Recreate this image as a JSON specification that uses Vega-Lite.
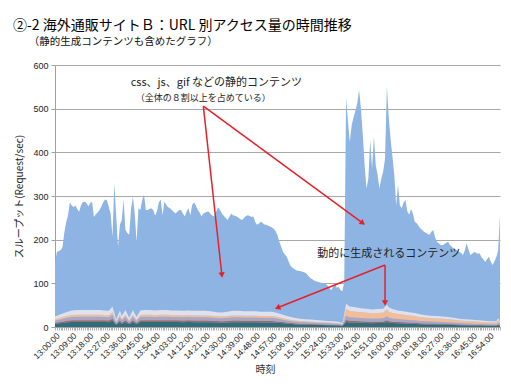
{
"$schema":"https://vega.github.io/schema/vega-lite/v6.json",
"width":445,"height":262,
"padding":{"left":12,"top":18,"right":12,"bottom":4},
"background":"white",
"config":{"view":{"stroke":null},"font":"Noto Sans CJK JP"},
"title":{"text":"②-2 海外通販サイトＢ：URL 別アクセス量の時間推移","subtitle":"\u200b　　（静的生成コンテンツも含めたグラフ）","anchor":"start","frame":"bounds","font":"Noto Sans CJK JP","fontSize":14,"fontWeight":"normal","color":"#000","subtitleFont":"Noto Sans CJK JP","subtitleFontSize":10.5,"subtitleColor":"#111","subtitlePadding":4,"offset":14,"dx":-2},
"encoding":{
 "x":{"field":"t","type":"temporal","title":"時刻",
  "scale":{"type":"utc","nice":false,"domain":[{"year":2000,"month":1,"date":1,"hours":13,"minutes":0,"utc":true},{"year":2000,"month":1,"date":1,"hours":17,"minutes":0,"utc":true}]},
  "axis":{"tickCount":240,"labelExpr":"(utchours(datum.value)*60+utcminutes(datum.value)-780)%9==0 ? utcFormat(datum.value,'%H:%M:%S') : ''","labelAngle":-45,"labelOverlap":false,"labelFlush":false,"labelBound":false,"grid":false,"tickSize":3,"tickColor":"#b0b0b0","domainColor":"#a0a0a0","labelFont":"Liberation Sans","labelFontSize":8.5,"labelColor":"#222","labelPadding":1,"titleFont":"Noto Sans CJK JP","titleFontSize":10,"titleFontWeight":"normal","titleColor":"#333","titlePadding":4,"titleX":210}},
 "y":{"field":"v","type":"quantitative","title":"スループット(Request/sec)",
  "scale":{"domain":[0,600],"nice":false},
  "axis":{"values":[0,100,200,300,400,500,600],"grid":true,"gridColor":"#a8a8a8","gridWidth":1,"domainColor":"#a0a0a0","tickColor":"#a0a0a0","tickSize":4,"labelFont":"Liberation Sans","labelFontSize":9,"labelColor":"#222","labelPadding":3,"titleFont":"Noto Sans CJK JP","titleFontSize":10,"titleFontWeight":"normal","titleColor":"#222","titlePadding":8}}
},
"layer":[
{"data":{"format":{"parse":{"t":"utc:'%Y-%m-%d %H:%M'"}},"values":[
{"t":"2000-01-01 13:00","v":146},{"t":"2000-01-01 13:01","v":172},{"t":"2000-01-01 13:02","v":174},{"t":"2000-01-01 13:03","v":176},{"t":"2000-01-01 13:04","v":182},{"t":"2000-01-01 13:05","v":215},{"t":"2000-01-01 13:06","v":240},{"t":"2000-01-01 13:07","v":255},{"t":"2000-01-01 13:08","v":285},{"t":"2000-01-01 13:09","v":278},
{"t":"2000-01-01 13:10","v":275},{"t":"2000-01-01 13:11","v":278},{"t":"2000-01-01 13:12","v":270},{"t":"2000-01-01 13:13","v":264},{"t":"2000-01-01 13:14","v":278},{"t":"2000-01-01 13:15","v":286},{"t":"2000-01-01 13:16","v":287},{"t":"2000-01-01 13:17","v":284},{"t":"2000-01-01 13:18","v":276},{"t":"2000-01-01 13:19","v":284},
{"t":"2000-01-01 13:20","v":287},{"t":"2000-01-01 13:21","v":252},{"t":"2000-01-01 13:22","v":258},{"t":"2000-01-01 13:23","v":262},{"t":"2000-01-01 13:24","v":268},{"t":"2000-01-01 13:25","v":276},{"t":"2000-01-01 13:26","v":285},{"t":"2000-01-01 13:27","v":292},{"t":"2000-01-01 13:28","v":290},{"t":"2000-01-01 13:29","v":275},
{"t":"2000-01-01 13:30","v":260},{"t":"2000-01-01 13:31","v":207},{"t":"2000-01-01 13:32","v":329},{"t":"2000-01-01 13:33","v":255},{"t":"2000-01-01 13:34","v":184},{"t":"2000-01-01 13:35","v":234},{"t":"2000-01-01 13:36","v":245},{"t":"2000-01-01 13:37","v":292},{"t":"2000-01-01 13:38","v":222},{"t":"2000-01-01 13:39","v":215},
{"t":"2000-01-01 13:40","v":211},{"t":"2000-01-01 13:41","v":270},{"t":"2000-01-01 13:42","v":298},{"t":"2000-01-01 13:43","v":260},{"t":"2000-01-01 13:44","v":195},{"t":"2000-01-01 13:45","v":272},{"t":"2000-01-01 13:46","v":268},{"t":"2000-01-01 13:47","v":290},{"t":"2000-01-01 13:48","v":303},{"t":"2000-01-01 13:49","v":268},
{"t":"2000-01-01 13:50","v":268},{"t":"2000-01-01 13:51","v":270},{"t":"2000-01-01 13:52","v":272},{"t":"2000-01-01 13:53","v":268},{"t":"2000-01-01 13:54","v":255},{"t":"2000-01-01 13:55","v":265},{"t":"2000-01-01 13:56","v":285},{"t":"2000-01-01 13:57","v":292},{"t":"2000-01-01 13:58","v":256},{"t":"2000-01-01 13:59","v":287},
{"t":"2000-01-01 14:00","v":280},{"t":"2000-01-01 14:01","v":274},{"t":"2000-01-01 14:02","v":272},{"t":"2000-01-01 14:03","v":268},{"t":"2000-01-01 14:04","v":264},{"t":"2000-01-01 14:05","v":260},{"t":"2000-01-01 14:06","v":264},{"t":"2000-01-01 14:07","v":268},{"t":"2000-01-01 14:08","v":268},{"t":"2000-01-01 14:09","v":260},
{"t":"2000-01-01 14:10","v":253},{"t":"2000-01-01 14:11","v":265},{"t":"2000-01-01 14:12","v":272},{"t":"2000-01-01 14:13","v":256},{"t":"2000-01-01 14:14","v":280},{"t":"2000-01-01 14:15","v":285},{"t":"2000-01-01 14:16","v":278},{"t":"2000-01-01 14:17","v":268},{"t":"2000-01-01 14:18","v":262},{"t":"2000-01-01 14:19","v":253},
{"t":"2000-01-01 14:20","v":260},{"t":"2000-01-01 14:21","v":262},{"t":"2000-01-01 14:22","v":264},{"t":"2000-01-01 14:23","v":264},{"t":"2000-01-01 14:24","v":258},{"t":"2000-01-01 14:25","v":255},{"t":"2000-01-01 14:26","v":253},{"t":"2000-01-01 14:27","v":265},{"t":"2000-01-01 14:28","v":274},{"t":"2000-01-01 14:29","v":268},
{"t":"2000-01-01 14:30","v":260},{"t":"2000-01-01 14:31","v":255},{"t":"2000-01-01 14:32","v":250},{"t":"2000-01-01 14:33","v":245},{"t":"2000-01-01 14:34","v":252},{"t":"2000-01-01 14:35","v":260},{"t":"2000-01-01 14:36","v":256},{"t":"2000-01-01 14:37","v":255},{"t":"2000-01-01 14:38","v":253},{"t":"2000-01-01 14:39","v":250},
{"t":"2000-01-01 14:40","v":247},{"t":"2000-01-01 14:41","v":245},{"t":"2000-01-01 14:42","v":250},{"t":"2000-01-01 14:43","v":254},{"t":"2000-01-01 14:44","v":256},{"t":"2000-01-01 14:45","v":254},{"t":"2000-01-01 14:46","v":252},{"t":"2000-01-01 14:47","v":253},{"t":"2000-01-01 14:48","v":240},{"t":"2000-01-01 14:49","v":234},
{"t":"2000-01-01 14:50","v":237},{"t":"2000-01-01 14:51","v":241},{"t":"2000-01-01 14:52","v":238},{"t":"2000-01-01 14:53","v":235},{"t":"2000-01-01 14:54","v":234},{"t":"2000-01-01 14:55","v":232},{"t":"2000-01-01 14:56","v":230},{"t":"2000-01-01 14:57","v":228},{"t":"2000-01-01 14:58","v":225},{"t":"2000-01-01 14:59","v":219},
{"t":"2000-01-01 15:00","v":210},{"t":"2000-01-01 15:01","v":195},{"t":"2000-01-01 15:02","v":184},{"t":"2000-01-01 15:03","v":172},{"t":"2000-01-01 15:04","v":166},{"t":"2000-01-01 15:05","v":161},{"t":"2000-01-01 15:06","v":150},{"t":"2000-01-01 15:07","v":140},{"t":"2000-01-01 15:08","v":136},{"t":"2000-01-01 15:09","v":133},
{"t":"2000-01-01 15:10","v":130},{"t":"2000-01-01 15:11","v":129},{"t":"2000-01-01 15:12","v":128},{"t":"2000-01-01 15:13","v":127},{"t":"2000-01-01 15:14","v":126},{"t":"2000-01-01 15:15","v":124},{"t":"2000-01-01 15:16","v":120},{"t":"2000-01-01 15:17","v":115},{"t":"2000-01-01 15:18","v":111},{"t":"2000-01-01 15:19","v":109},
{"t":"2000-01-01 15:20","v":106},{"t":"2000-01-01 15:21","v":104},{"t":"2000-01-01 15:22","v":103},{"t":"2000-01-01 15:23","v":102},{"t":"2000-01-01 15:24","v":101},{"t":"2000-01-01 15:25","v":100},{"t":"2000-01-01 15:26","v":99},{"t":"2000-01-01 15:27","v":95},{"t":"2000-01-01 15:28","v":90},{"t":"2000-01-01 15:29","v":84},
{"t":"2000-01-01 15:30","v":92},{"t":"2000-01-01 15:31","v":99},{"t":"2000-01-01 15:32","v":90},{"t":"2000-01-01 15:33","v":92},{"t":"2000-01-01 15:34","v":85},{"t":"2000-01-01 15:35","v":82},{"t":"2000-01-01 15:36","v":104},{"t":"2000-01-01 15:37","v":527},{"t":"2000-01-01 15:38","v":470},{"t":"2000-01-01 15:39","v":424},
{"t":"2000-01-01 15:40","v":462},{"t":"2000-01-01 15:41","v":480},{"t":"2000-01-01 15:42","v":495},{"t":"2000-01-01 15:43","v":512},{"t":"2000-01-01 15:44","v":543},{"t":"2000-01-01 15:45","v":500},{"t":"2000-01-01 15:46","v":440},{"t":"2000-01-01 15:47","v":370},{"t":"2000-01-01 15:48","v":317},{"t":"2000-01-01 15:49","v":340},
{"t":"2000-01-01 15:50","v":428},{"t":"2000-01-01 15:51","v":363},{"t":"2000-01-01 15:52","v":436},{"t":"2000-01-01 15:53","v":370},{"t":"2000-01-01 15:54","v":348},{"t":"2000-01-01 15:55","v":317},{"t":"2000-01-01 15:56","v":340},{"t":"2000-01-01 15:57","v":356},{"t":"2000-01-01 15:58","v":386},{"t":"2000-01-01 15:59","v":551},
{"t":"2000-01-01 16:00","v":480},{"t":"2000-01-01 16:01","v":430},{"t":"2000-01-01 16:02","v":390},{"t":"2000-01-01 16:03","v":348},{"t":"2000-01-01 16:04","v":279},{"t":"2000-01-01 16:05","v":325},{"t":"2000-01-01 16:06","v":279},{"t":"2000-01-01 16:07","v":272},{"t":"2000-01-01 16:08","v":285},{"t":"2000-01-01 16:09","v":291},
{"t":"2000-01-01 16:10","v":265},{"t":"2000-01-01 16:11","v":257},{"t":"2000-01-01 16:12","v":270},{"t":"2000-01-01 16:13","v":260},{"t":"2000-01-01 16:14","v":241},{"t":"2000-01-01 16:15","v":238},{"t":"2000-01-01 16:16","v":232},{"t":"2000-01-01 16:17","v":226},{"t":"2000-01-01 16:18","v":222},{"t":"2000-01-01 16:19","v":218},
{"t":"2000-01-01 16:20","v":216},{"t":"2000-01-01 16:21","v":213},{"t":"2000-01-01 16:22","v":211},{"t":"2000-01-01 16:23","v":218},{"t":"2000-01-01 16:24","v":222},{"t":"2000-01-01 16:25","v":205},{"t":"2000-01-01 16:26","v":195},{"t":"2000-01-01 16:27","v":192},{"t":"2000-01-01 16:28","v":188},{"t":"2000-01-01 16:29","v":187},
{"t":"2000-01-01 16:30","v":190},{"t":"2000-01-01 16:31","v":193},{"t":"2000-01-01 16:32","v":195},{"t":"2000-01-01 16:33","v":188},{"t":"2000-01-01 16:34","v":184},{"t":"2000-01-01 16:35","v":180},{"t":"2000-01-01 16:36","v":178},{"t":"2000-01-01 16:37","v":175},{"t":"2000-01-01 16:38","v":172},{"t":"2000-01-01 16:39","v":170},
{"t":"2000-01-01 16:40","v":165},{"t":"2000-01-01 16:41","v":175},{"t":"2000-01-01 16:42","v":191},{"t":"2000-01-01 16:43","v":178},{"t":"2000-01-01 16:44","v":165},{"t":"2000-01-01 16:45","v":168},{"t":"2000-01-01 16:46","v":172},{"t":"2000-01-01 16:47","v":170},{"t":"2000-01-01 16:48","v":168},{"t":"2000-01-01 16:49","v":169},
{"t":"2000-01-01 16:50","v":160},{"t":"2000-01-01 16:51","v":155},{"t":"2000-01-01 16:52","v":149},{"t":"2000-01-01 16:53","v":155},{"t":"2000-01-01 16:54","v":161},{"t":"2000-01-01 16:55","v":150},{"t":"2000-01-01 16:56","v":142},{"t":"2000-01-01 16:57","v":150},{"t":"2000-01-01 16:58","v":160},{"t":"2000-01-01 16:59","v":175},
{"t":"2000-01-01 17:00","v":257}]},
 "mark":{"type":"area","color":"#8db4e2","interpolate":"linear"}},
{"data":{"format":{"parse":{"t":"utc:'%Y-%m-%d %H:%M'"}},"values":[
{"t":"2000-01-01 13:00","a":7.2,"b":2.4,"c":4.8,"d":2.9,"e":6.7},
{"t":"2000-01-01 13:03","a":8.7,"b":2.9,"c":5.8,"d":3.5,"e":8.1},
{"t":"2000-01-01 13:06","a":10.2,"b":3.4,"c":6.8,"d":4.1,"e":9.5},
{"t":"2000-01-01 13:09","a":11.4,"b":3.8,"c":7.6,"d":4.6,"e":10.6},
{"t":"2000-01-01 13:12","a":11.7,"b":3.9,"c":7.8,"d":4.7,"e":10.9},
{"t":"2000-01-01 13:15","a":11.7,"b":3.9,"c":7.8,"d":4.7,"e":10.9},
{"t":"2000-01-01 13:18","a":11.7,"b":3.9,"c":7.8,"d":4.7,"e":10.9},
{"t":"2000-01-01 13:21","a":11.7,"b":3.9,"c":7.8,"d":4.7,"e":10.9},
{"t":"2000-01-01 13:24","a":11.7,"b":3.9,"c":7.8,"d":4.7,"e":10.9},
{"t":"2000-01-01 13:27","a":11.4,"b":3.8,"c":7.6,"d":4.6,"e":10.6},
{"t":"2000-01-01 13:29","a":11.1,"b":3.7,"c":7.4,"d":4.4,"e":10.4},
{"t":"2000-01-01 13:31","a":14.1,"b":4.7,"c":9.4,"d":5.6,"e":13.2},
{"t":"2000-01-01 13:33","a":5.1,"b":1.7,"c":3.4,"d":2.0,"e":4.8},
{"t":"2000-01-01 13:35","a":11.4,"b":3.8,"c":7.6,"d":4.6,"e":10.6},
{"t":"2000-01-01 13:36","a":7.5,"b":2.5,"c":5.0,"d":3.0,"e":7.0},
{"t":"2000-01-01 13:38","a":11.7,"b":3.9,"c":7.8,"d":4.7,"e":10.9},
{"t":"2000-01-01 13:40","a":6.3,"b":2.1,"c":4.2,"d":2.5,"e":5.9},
{"t":"2000-01-01 13:42","a":11.7,"b":3.9,"c":7.8,"d":4.7,"e":10.9},
{"t":"2000-01-01 13:44","a":6.9,"b":2.3,"c":4.6,"d":2.8,"e":6.4},
{"t":"2000-01-01 13:46","a":11.4,"b":3.8,"c":7.6,"d":4.6,"e":10.6},
{"t":"2000-01-01 13:48","a":11.7,"b":3.9,"c":7.8,"d":4.7,"e":10.9},
{"t":"2000-01-01 13:51","a":11.7,"b":3.9,"c":7.8,"d":4.7,"e":10.9},
{"t":"2000-01-01 13:54","a":11.4,"b":3.8,"c":7.6,"d":4.6,"e":10.6},
{"t":"2000-01-01 13:57","a":11.7,"b":3.9,"c":7.8,"d":4.7,"e":10.9},
{"t":"2000-01-01 14:00","a":11.7,"b":3.9,"c":7.8,"d":4.7,"e":10.9},
{"t":"2000-01-01 14:03","a":11.4,"b":3.8,"c":7.6,"d":4.6,"e":10.6},
{"t":"2000-01-01 14:06","a":11.4,"b":3.8,"c":7.6,"d":4.6,"e":10.6},
{"t":"2000-01-01 14:09","a":11.1,"b":3.7,"c":7.4,"d":4.4,"e":10.4},
{"t":"2000-01-01 14:12","a":11.4,"b":3.8,"c":7.6,"d":4.6,"e":10.6},
{"t":"2000-01-01 14:15","a":11.1,"b":3.7,"c":7.4,"d":4.4,"e":10.4},
{"t":"2000-01-01 14:18","a":11.1,"b":3.7,"c":7.4,"d":4.4,"e":10.4},
{"t":"2000-01-01 14:21","a":11.1,"b":3.7,"c":7.4,"d":4.4,"e":10.4},
{"t":"2000-01-01 14:24","a":10.8,"b":3.6,"c":7.2,"d":4.3,"e":10.1},
{"t":"2000-01-01 14:27","a":10.2,"b":3.4,"c":6.8,"d":4.1,"e":9.5},
{"t":"2000-01-01 14:30","a":9.9,"b":3.3,"c":6.6,"d":4.0,"e":9.2},
{"t":"2000-01-01 14:33","a":10.5,"b":3.5,"c":7.0,"d":4.2,"e":9.8},
{"t":"2000-01-01 14:36","a":11.1,"b":3.7,"c":7.4,"d":4.4,"e":10.4},
{"t":"2000-01-01 14:39","a":11.1,"b":3.7,"c":7.4,"d":4.4,"e":10.4},
{"t":"2000-01-01 14:42","a":10.8,"b":3.6,"c":7.2,"d":4.3,"e":10.1},
{"t":"2000-01-01 14:45","a":10.8,"b":3.6,"c":7.2,"d":4.3,"e":10.1},
{"t":"2000-01-01 14:48","a":10.8,"b":3.6,"c":7.2,"d":4.3,"e":10.1},
{"t":"2000-01-01 14:51","a":10.5,"b":3.5,"c":7.0,"d":4.2,"e":9.8},
{"t":"2000-01-01 14:54","a":10.5,"b":3.5,"c":7.0,"d":4.2,"e":9.8},
{"t":"2000-01-01 14:57","a":10.5,"b":3.5,"c":7.0,"d":4.2,"e":9.8},
{"t":"2000-01-01 15:00","a":9.6,"b":3.2,"c":6.4,"d":3.8,"e":9.0},
{"t":"2000-01-01 15:03","a":8.4,"b":2.8,"c":5.6,"d":3.4,"e":7.8},
{"t":"2000-01-01 15:06","a":7.2,"b":2.4,"c":4.8,"d":2.9,"e":6.7},
{"t":"2000-01-01 15:09","a":6.3,"b":2.1,"c":4.2,"d":2.5,"e":5.9},
{"t":"2000-01-01 15:12","a":5.7,"b":1.9,"c":3.8,"d":2.3,"e":5.3},
{"t":"2000-01-01 15:15","a":5.4,"b":1.8,"c":3.6,"d":2.2,"e":5.0},
{"t":"2000-01-01 15:18","a":5.1,"b":1.7,"c":3.4,"d":2.0,"e":4.8},
{"t":"2000-01-01 15:21","a":4.8,"b":1.6,"c":3.2,"d":1.9,"e":4.5},
{"t":"2000-01-01 15:24","a":4.5,"b":1.5,"c":3.0,"d":1.8,"e":4.2},
{"t":"2000-01-01 15:27","a":4.2,"b":1.4,"c":2.8,"d":1.7,"e":3.9},
{"t":"2000-01-01 15:30","a":3.9,"b":1.3,"c":2.6,"d":1.6,"e":3.6},
{"t":"2000-01-01 15:33","a":3.6,"b":1.2,"c":2.4,"d":1.4,"e":3.4},
{"t":"2000-01-01 15:35","a":2.7,"b":0.9,"c":1.8,"d":1.1,"e":2.5},
{"t":"2000-01-01 15:36","a":6.6,"b":2.4,"c":5.4,"d":9.0,"e":6.6},
{"t":"2000-01-01 15:37","a":11.7,"b":4.2,"c":9.5,"d":15.9,"e":11.7},
{"t":"2000-01-01 15:39","a":10.3,"b":3.8,"c":8.5,"d":14.1,"e":10.3},
{"t":"2000-01-01 15:42","a":9.9,"b":3.6,"c":8.1,"d":13.5,"e":9.9},
{"t":"2000-01-01 15:45","a":9.5,"b":3.4,"c":7.7,"d":12.9,"e":9.5},
{"t":"2000-01-01 15:48","a":9.2,"b":3.4,"c":7.6,"d":12.6,"e":9.2},
{"t":"2000-01-01 15:51","a":8.8,"b":3.2,"c":7.2,"d":12.0,"e":8.8},
{"t":"2000-01-01 15:54","a":9.0,"b":3.3,"c":7.4,"d":12.3,"e":9.0},
{"t":"2000-01-01 15:57","a":9.2,"b":3.4,"c":7.6,"d":12.6,"e":9.2},
{"t":"2000-01-01 15:59","a":11.2,"b":4.1,"c":9.2,"d":15.3,"e":11.2},
{"t":"2000-01-01 16:00","a":9.9,"b":3.6,"c":8.1,"d":13.5,"e":9.9},
{"t":"2000-01-01 16:02","a":9.0,"b":3.3,"c":7.4,"d":12.3,"e":9.0},
{"t":"2000-01-01 16:05","a":8.4,"b":3.0,"c":6.8,"d":11.4,"e":8.4},
{"t":"2000-01-01 16:08","a":7.9,"b":2.9,"c":6.5,"d":10.8,"e":7.9},
{"t":"2000-01-01 16:11","a":7.5,"b":2.7,"c":6.1,"d":10.2,"e":7.5},
{"t":"2000-01-01 16:14","a":7.0,"b":2.6,"c":5.8,"d":9.6,"e":7.0},
{"t":"2000-01-01 16:17","a":6.4,"b":2.3,"c":5.2,"d":8.7,"e":6.4},
{"t":"2000-01-01 16:20","a":5.9,"b":2.2,"c":4.9,"d":8.1,"e":5.9},
{"t":"2000-01-01 16:23","a":5.7,"b":2.1,"c":4.7,"d":7.8,"e":5.7},
{"t":"2000-01-01 16:26","a":5.5,"b":2.0,"c":4.5,"d":7.5,"e":5.5},
{"t":"2000-01-01 16:29","a":5.3,"b":1.9,"c":4.3,"d":7.2,"e":5.3},
{"t":"2000-01-01 16:32","a":5.1,"b":1.8,"c":4.1,"d":6.9,"e":5.1},
{"t":"2000-01-01 16:35","a":4.6,"b":1.7,"c":3.8,"d":6.3,"e":4.6},
{"t":"2000-01-01 16:38","a":4.2,"b":1.5,"c":3.4,"d":5.7,"e":4.2},
{"t":"2000-01-01 16:41","a":4.0,"b":1.4,"c":3.2,"d":5.4,"e":4.0},
{"t":"2000-01-01 16:44","a":3.7,"b":1.4,"c":3.1,"d":5.1,"e":3.7},
{"t":"2000-01-01 16:47","a":3.5,"b":1.3,"c":2.9,"d":4.8,"e":3.5},
{"t":"2000-01-01 16:50","a":3.3,"b":1.2,"c":2.7,"d":4.5,"e":3.3},
{"t":"2000-01-01 16:53","a":3.1,"b":1.1,"c":2.5,"d":4.2,"e":3.1},
{"t":"2000-01-01 16:56","a":2.9,"b":1.0,"c":2.3,"d":3.9,"e":2.9},
{"t":"2000-01-01 16:58","a":2.9,"b":1.0,"c":2.3,"d":3.9,"e":2.9},
{"t":"2000-01-01 16:59","a":4.4,"b":1.6,"c":3.6,"d":6.0,"e":4.4},
{"t":"2000-01-01 17:00","a":3.1,"b":1.1,"c":2.5,"d":4.2,"e":3.1}]},
 "transform":[{"fold":["a","b","c","d","e"],"as":["k","v"]}],
 "mark":{"type":"area","interpolate":"linear"},
 "encoding":{
  "color":{"field":"k","type":"nominal","legend":null,"scale":{"domain":["a","b","c","d","e"],"range":["#2f6d7b","#9c6a66","#a9a7c6","#f3bd97","#dfe1ec"]}},
  "order":{"field":"k","sort":"ascending"}}},
{"data":{"format":{"parse":{"t":"utc:'%Y-%m-%d %H:%M'","t2":"utc:'%Y-%m-%d %H:%M'"}},"values":[
 {"t":"2000-01-01 14:20","v":506,"t2":"2000-01-01 14:30","v2":119},
 {"t":"2000-01-01 14:20","v":506,"t2":"2000-01-01 15:46","v2":238},
 {"t":"2000-01-01 15:58","v":142,"t2":"2000-01-01 15:00","v2":44},
 {"t":"2000-01-01 15:58","v":142,"t2":"2000-01-01 15:58","v2":55}]},
 "mark":{"type":"rule","color":"#e8202a","strokeWidth":1.5},
 "encoding":{"x2":{"field":"t2"},"y2":{"field":"v2"}}},
{"data":{"format":{"parse":{"t":"utc:'%Y-%m-%d %H:%M'"}},"values":[{"t":"2000-01-01 14:30","v":119}]},
 "mark":{"type":"point","shape":"triangle-up","filled":true,"opacity":1,"color":"#e8202a","size":40,"angle":174}},
{"data":{"format":{"parse":{"t":"utc:'%Y-%m-%d %H:%M'"}},"values":[{"t":"2000-01-01 15:46","v":238}]},
 "mark":{"type":"point","shape":"triangle-up","filled":true,"opacity":1,"color":"#e8202a","size":40,"angle":126}},
{"data":{"format":{"parse":{"t":"utc:'%Y-%m-%d %H:%M'"}},"values":[{"t":"2000-01-01 15:00","v":44}]},
 "mark":{"type":"point","shape":"triangle-up","filled":true,"opacity":1,"color":"#e8202a","size":40,"angle":248}},
{"data":{"format":{"parse":{"t":"utc:'%Y-%m-%d %H:%M'"}},"values":[{"t":"2000-01-01 15:58","v":55}]},
 "mark":{"type":"point","shape":"triangle-up","filled":true,"opacity":1,"color":"#e8202a","size":40,"angle":180}},
{"data":{"format":{"parse":{"t":"utc:'%Y-%m-%d %H:%M'"}},"values":[
 {"t":"2000-01-01 14:27","v":559,"label":"css、js、gif などの静的コンテンツ"},
 {"t":"2000-01-01 16:00","v":167,"label":"動的に生成されるコンテンツ"}]},
 "mark":{"type":"text","font":"Noto Sans CJK JP","fontSize":11,"color":"#222","align":"center","baseline":"middle"},
 "encoding":{"text":{"field":"label"}}},
{"data":{"format":{"parse":{"t":"utc:'%Y-%m-%d %H:%M'"}},"values":[
 {"t":"2000-01-01 14:20","v":525,"label":"（全体の８割以上を占めている）"}]},
 "mark":{"type":"text","font":"Noto Sans CJK JP","fontSize":9,"color":"#222","align":"center","baseline":"middle"},
 "encoding":{"text":{"field":"label"}}}
]
}
